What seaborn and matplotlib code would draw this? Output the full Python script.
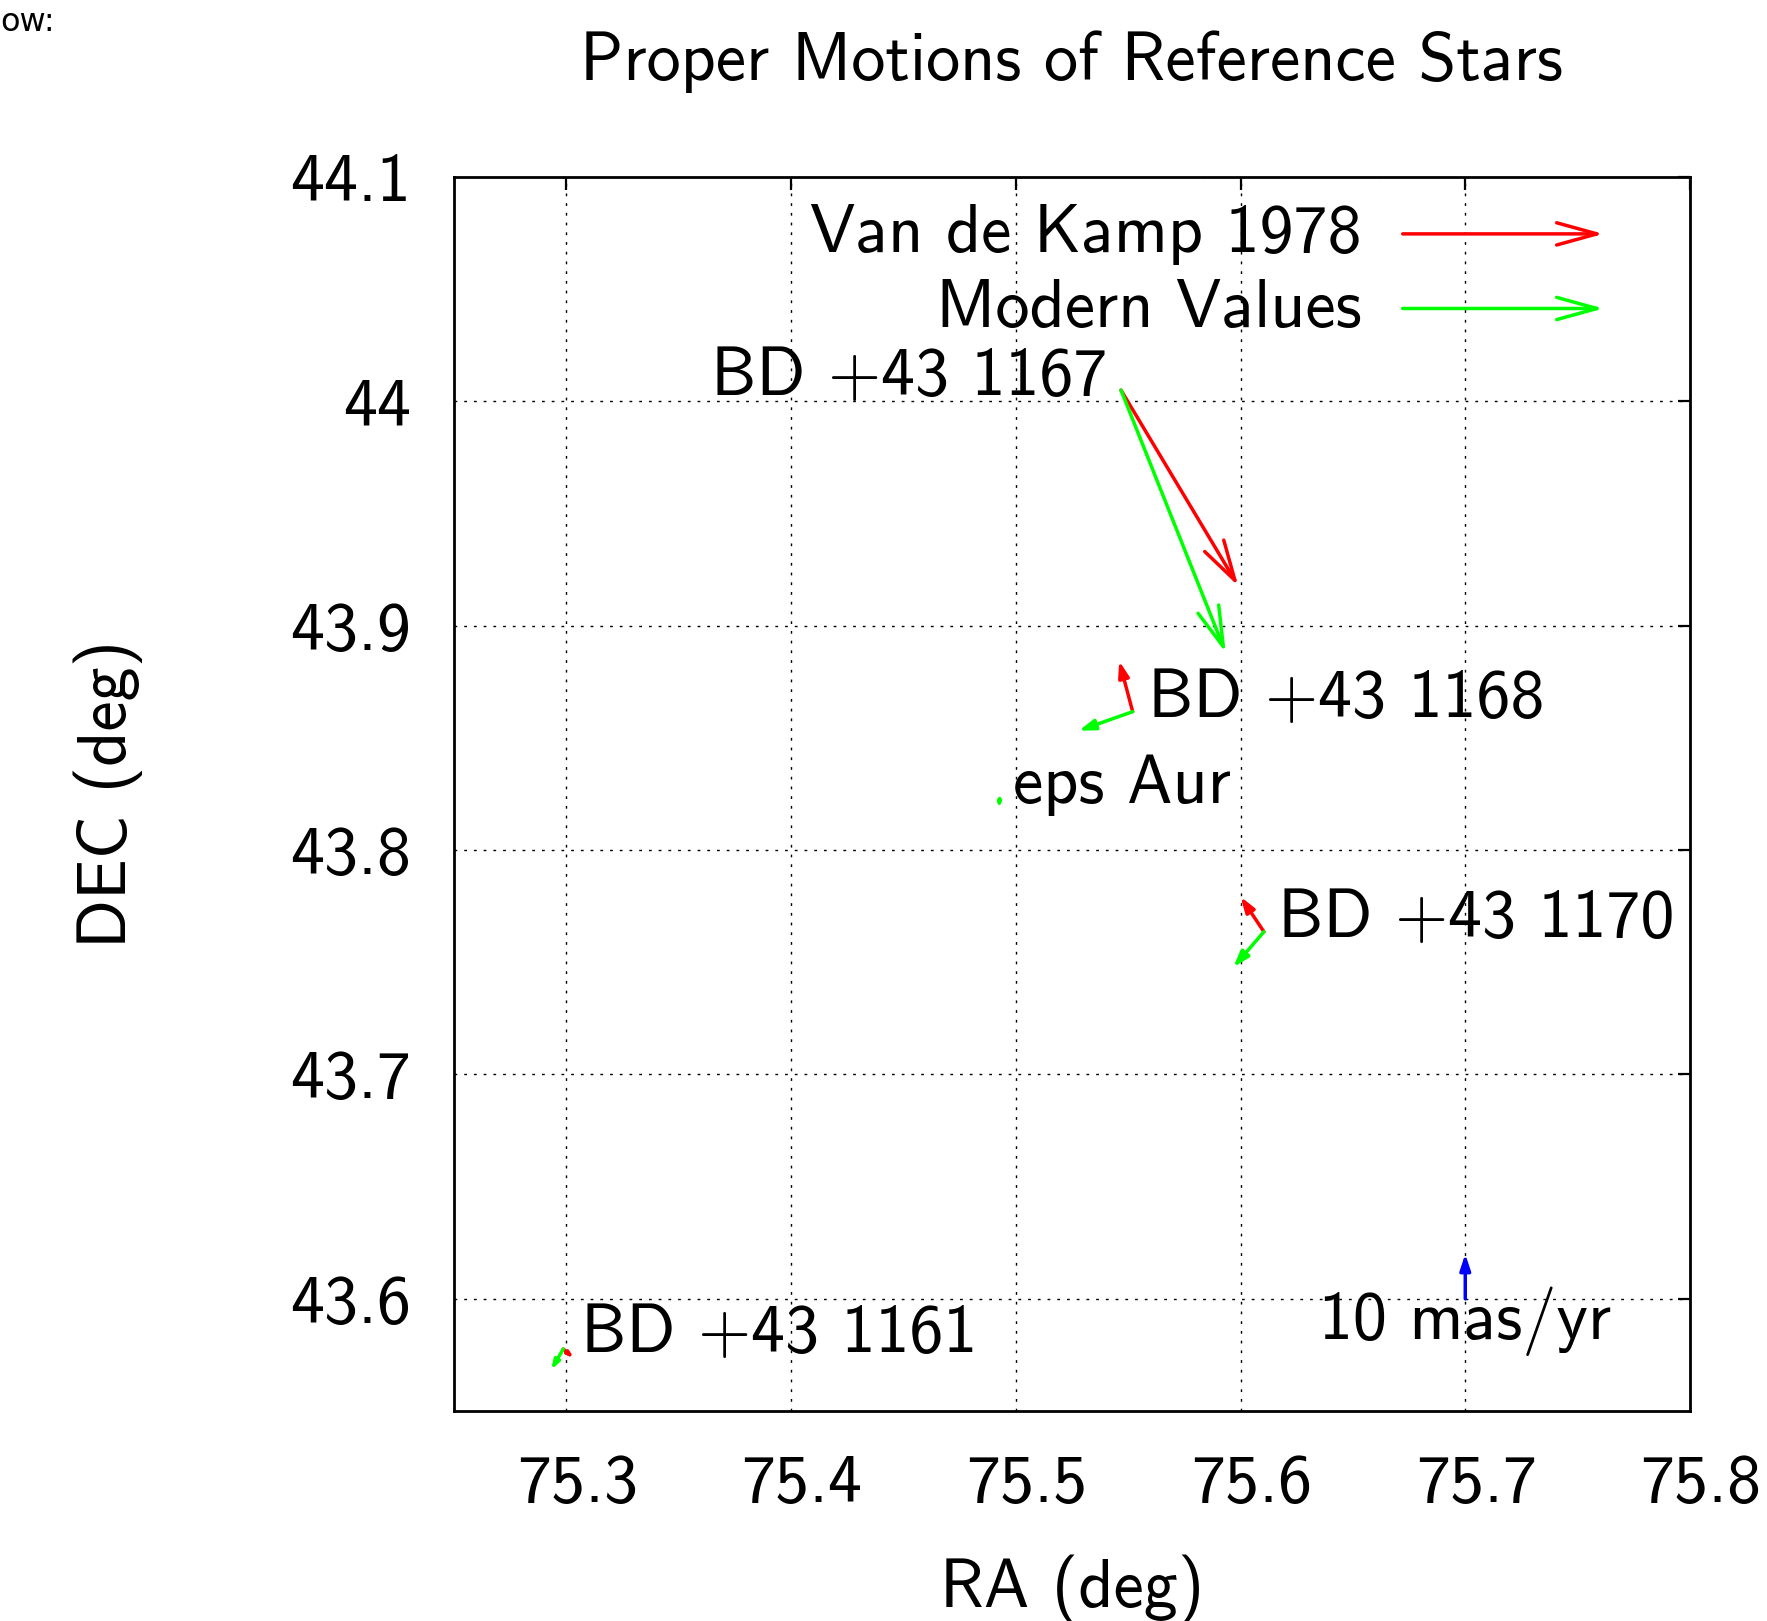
import numpy as np
import pandas as pd
import seaborn as sns
import matplotlib
matplotlib.use("Agg")
import matplotlib.pyplot as plt
import matplotlib.transforms as mtransforms
from matplotlib.lines import Line2D
from matplotlib.patches import FancyArrowPatch
from matplotlib.legend_handler import HandlerBase
from matplotlib.ticker import FuncFormatter

# star positions (deg)
stars = ["BD +43 1167", "BD +43 1168", "eps Aur", "BD +43 1170", "BD +43 1161"]
ra = [75.5468, 75.5520, 75.4928, 75.6104, 75.2986]
dec = [44.0050, 43.8617, 43.8230, 43.7636, 43.5776]
# arrow tips, Van de Kamp 1978
vdk_ra = [75.5990, 75.5460, 75.4928, 75.6000, 75.3034]
vdk_dec = [43.9177, 43.8843, 43.8230, 43.7792, 43.5735]
# arrow tips, modern values
mod_ra = [75.5934, 75.5280, 75.4925, 75.5968, 75.2932]
mod_dec = [43.8880, 43.8532, 43.8185, 43.7478, 43.5683]
# label anchors
label_ra = [75.5409, 75.5590, 75.4986, 75.6168, 75.3065]
label_dec = [44.0030, 43.8595, 43.8209, 43.7611, 43.5764]
label_ha = ["right", "left", "left", "left", "left"]

# scale arrow
scale_text = "10 mas/yr"
scale_ra = 75.70
scale_dec = 43.60
scale_len = 0.02
scale_label_dec = 43.582

xticks = [75.3, 75.4, 75.5, 75.6, 75.7, 75.8]
yticks = [43.6, 43.7, 43.8, 43.9, 44.0, 44.1]

RED = "#ff0000"
GREEN = "#00ff00"
BLUE = "#0000ff"
FS = 49
LW = 2.5


class ArrowHandler(HandlerBase):
    def create_artists(self, legend, orig_handle, xdescent, ydescent,
                       width, height, fontsize, trans):
        y = height / 2 - ydescent - 4
        a = FancyArrowPatch((-xdescent, y), (width - xdescent, y),
                            arrowstyle="->,head_length=2.9,head_width=0.8",
                            mutation_scale=10, color=orig_handle.get_color(),
                            lw=LW, shrinkA=0, shrinkB=0, transform=trans)
        return [a]


def draw_arrow(ax, fig, x0, y0, x1, y1, color):
    p0 = ax.transData.transform((x0, y0))
    p1 = ax.transData.transform((x1, y1))
    length = np.hypot(*(p1 - p0)) * 72 / fig.dpi
    if length < 0.5:
        return
    if length > 80:
        style = "->,head_length=2.9,head_width=0.8"
    else:
        hl = min(9.5, 0.3 * length)
        style = "-|>,head_length=%.3f,head_width=%.3f" % (hl / 10, hl * 0.33 / 10)
    ax.annotate("", xy=(x1, y1), xytext=(x0, y0),
                arrowprops=dict(arrowstyle=style, mutation_scale=10, color=color,
                                lw=LW, shrinkA=0, shrinkB=0), zorder=3)


def image():
    sns.set_style("white")
    plt.rcParams["font.family"] = ["cmss10", "DejaVu Sans"]
    plt.rcParams["axes.unicode_minus"] = False
    plt.rcParams["text.color"] = "black"
    plt.rcParams["axes.labelcolor"] = "black"

    df = pd.DataFrame({"star": stars, "ra": ra, "dec": dec,
                       "vdk_ra": vdk_ra, "vdk_dec": vdk_dec,
                       "mod_ra": mod_ra, "mod_dec": mod_dec,
                       "lab_ra": label_ra, "lab_dec": label_dec, "ha": label_ha})

    fig = plt.figure(figsize=(17.67, 16.21), dpi=100)
    ax = fig.add_axes([0.25693, 0.12955, 0.69949, 0.76126])
    ax.set_xlim(75.25, 75.8)
    ax.set_ylim(43.55, 44.1)
    ax.set_xticks(xticks)
    ax.set_yticks(yticks)
    fmt = FuncFormatter(lambda v, p: "%g" % round(v, 2))
    ax.xaxis.set_major_formatter(fmt)
    ax.yaxis.set_major_formatter(fmt)
    ax.tick_params(direction="in", length=9, width=1.6, top=True, right=True,
                   labelsize=FS, pad=31, colors="black")
    # gnuplot puts the x tick labels a little right of the tick
    shift = mtransforms.ScaledTranslation(0.11, 0, fig.dpi_scale_trans)
    for lab in ax.get_xticklabels():
        lab.set_transform(lab.get_transform() + shift)
    ax.grid(True, color="black", lw=1.0, linestyle=(0, (2, 5)), zorder=0)
    for s in ax.spines.values():
        s.set_linewidth(2.0)
        s.set_color("black")

    for _, r in df.iterrows():
        draw_arrow(ax, fig, r.ra, r.dec, r.vdk_ra, r.vdk_dec, RED)
        draw_arrow(ax, fig, r.ra, r.dec, r.mod_ra, r.mod_dec, GREEN)
        ax.text(r.lab_ra, r.lab_dec, r.star, ha=r.ha, va="baseline", fontsize=FS)

    draw_arrow(ax, fig, scale_ra, scale_dec, scale_ra, scale_dec + scale_len, BLUE)
    ax.text(scale_ra, scale_label_dec, scale_text, ha="center", va="baseline", fontsize=FS)

    handles = [Line2D([], [], color=RED, label="Van de Kamp 1978"),
               Line2D([], [], color=GREEN, label="Modern Values")]
    ax.legend(handles=handles, handler_map={Line2D: ArrowHandler()},
              loc="upper right", bbox_to_anchor=(0.93, 0.978), frameon=False,
              markerfirst=False, fontsize=FS, handlelength=2.95, handletextpad=0.6,
              labelspacing=0.2, borderpad=0, borderaxespad=0)

    ax.set_title("Proper Motions of Reference Stars", fontsize=FS, pad=70)
    ax.set_xlabel("RA (deg)", fontsize=FS)
    ax.set_ylabel("DEC (deg)", fontsize=FS)
    ax.xaxis.set_label_coords(0.5, -0.116)
    ax.yaxis.set_label_coords(-0.252, 0.5)

    fig.text(0.0, 1 - 31 / 1621, "ow:", fontsize=23, family="DejaVu Sans",
             ha="left", va="baseline")

    fig.savefig("out.png", dpi=100)


image()
